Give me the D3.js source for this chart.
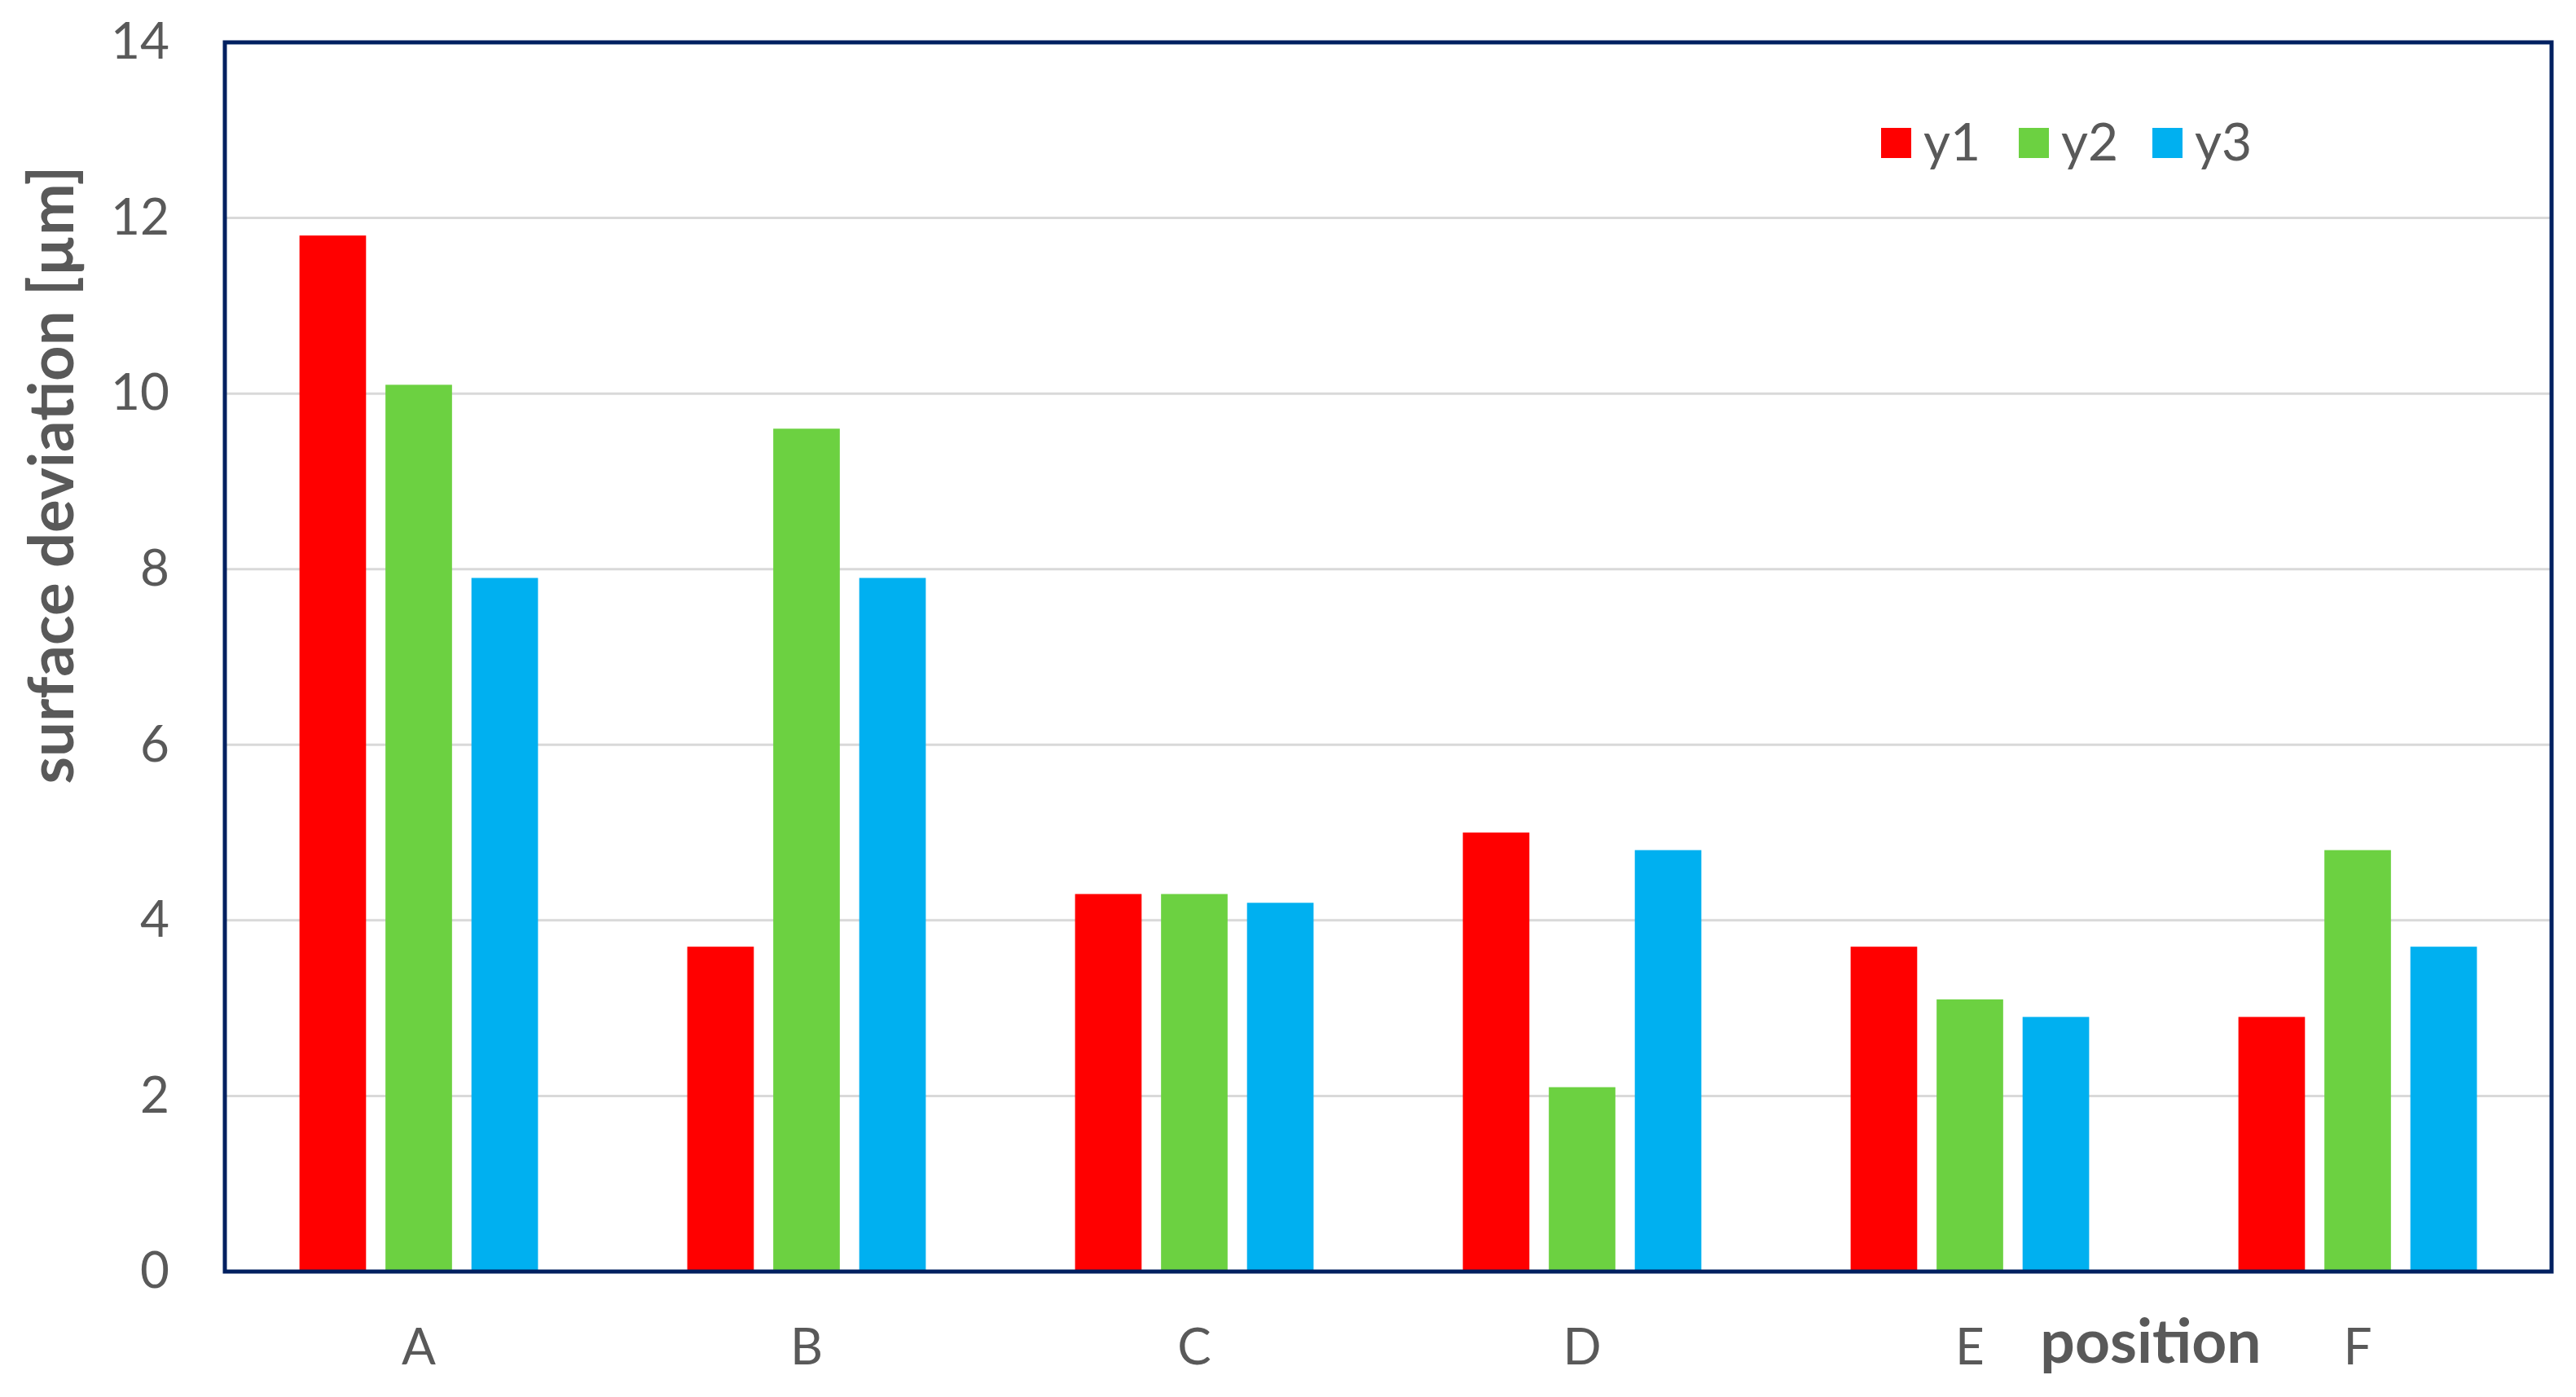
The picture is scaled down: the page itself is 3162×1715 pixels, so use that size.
<!DOCTYPE html>
<html><head><meta charset="utf-8">
<script src="https://cdn.jsdelivr.net/npm/d3@7"></script>
<style>
body{margin:0;background:#fff;}
svg{display:block;}
text{font-family:Lato,"Open Sans",sans-serif;}
</style>
</head><body>
<svg id="chart" width="3162" height="1715"></svg>
<script>
const categories = ["A","B","C","D","E","F"];
const seriesNames = ["y1","y2","y3"];
const y1 = [11.8, 3.7, 4.3, 5.0, 3.7, 2.9];
const y2 = [10.1, 9.6, 4.3, 2.1, 3.1, 4.8];
const y3 = [7.9, 7.9, 4.2, 4.8, 2.9, 3.7];
const yTicks = [0, 2, 4, 6, 8, 10, 12, 14];
const colors = ["#FF0000", "#6CD141", "#00B0F0"];
const yTitle = "surface deviation [µm]";
const xTitle = "position";

const series = [y1, y2, y3];
const m = {left: 276, right: 3132, top: 52, bottom: 1561};
const svg = d3.select("#chart");
const textColor = "#595959";

const x0 = d3.scaleBand().domain(categories).range([m.left, m.right]).padding(0);
const x1 = d3.scaleBand().domain(seriesNames).range([0, x0.bandwidth()])
  .paddingInner(0.226).paddingOuter(0.868);
const y = d3.scaleLinear().domain([0, 14]).range([m.bottom, m.top]);

// gridlines
svg.append("g").selectAll("line").data(yTicks.filter(t => t > 0 && t < 14)).join("line")
  .attr("x1", m.left).attr("x2", m.right)
  .attr("y1", d => y(d)).attr("y2", d => y(d))
  .attr("stroke", "#D9D9D9").attr("stroke-width", 3);

// bars
const rows = [];
categories.forEach((c, i) => seriesNames.forEach((s, j) => rows.push({c, s, v: series[j][i], j})));
svg.append("g").selectAll("rect").data(rows).join("rect")
  .attr("x", d => x0(d.c) + x1(d.s))
  .attr("width", x1.bandwidth())
  .attr("y", d => y(d.v))
  .attr("height", d => y(0) - y(d.v))
  .attr("fill", d => colors[d.j]);

// frame
svg.append("rect").attr("x", m.left).attr("y", m.top)
  .attr("width", m.right - m.left).attr("height", m.bottom - m.top)
  .attr("fill", "none").attr("stroke", "#002060").attr("stroke-width", 5);

// y axis
const yAxis = d3.axisLeft(y).tickValues(yTicks).tickSize(0).tickPadding(68);
const gy = svg.append("g").attr("transform", `translate(${m.left},0)`).call(yAxis);
gy.select(".domain").remove();
gy.selectAll("text").attr("font-size", 62).attr("fill", textColor)
  .style("font-family", "Lato, 'Open Sans', sans-serif");

// x axis
const xAxis = d3.axisBottom(x0).tickSize(0).tickPadding(70);
const gx = svg.append("g").attr("transform", `translate(0,${m.bottom})`).call(xAxis);
gx.select(".domain").remove();
gx.selectAll("text").attr("font-size", 62).attr("fill", textColor)
  .style("font-family", "Lato, 'Open Sans', sans-serif");

// axis titles
svg.append("text").attr("transform", `translate(90,583) rotate(-90)`)
  .attr("text-anchor", "middle").attr("font-size", 76).attr("font-weight", "bold")
  .attr("fill", textColor).text(yTitle);
svg.append("text").attr("x", 2640).attr("y", 1673)
  .attr("text-anchor", "middle").attr("font-size", 75).attr("font-weight", "bold")
  .attr("fill", textColor).text(xTitle);

// legend
const legX = [2309, 2478, 2642];
const lg = svg.append("g").selectAll("g").data(seriesNames).join("g")
  .attr("transform", (d, i) => `translate(${legX[i]},157)`);
lg.append("rect").attr("width", 37).attr("height", 37).attr("fill", (d, i) => colors[i]);
lg.append("text").attr("x", 52).attr("y", 40).attr("font-size", 64)
  .attr("fill", textColor).text(d => d);
</script>
</body></html>
